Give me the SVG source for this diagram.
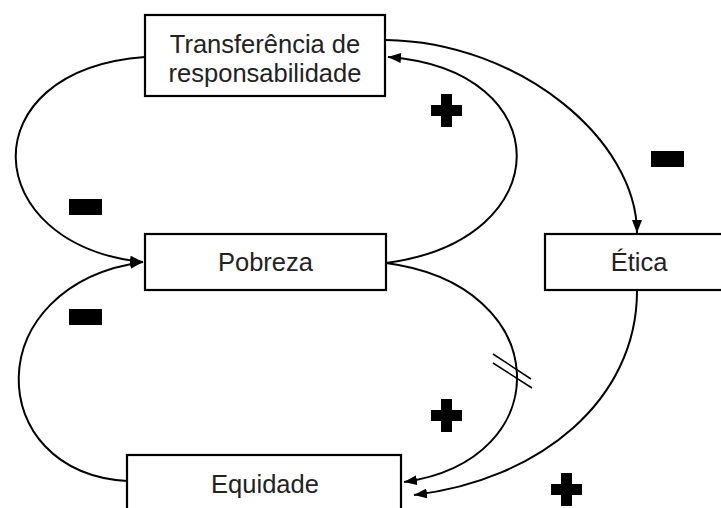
<svg xmlns="http://www.w3.org/2000/svg" width="721" height="508" viewBox="0 0 721 508">
<style>
.box{fill:#fff;stroke:#000;stroke-width:2.2}
.lbl{font-family:"Liberation Sans",Arial,sans-serif;font-size:25.5px;fill:#222;text-anchor:middle}
.con{fill:none;stroke:#000;stroke-width:2}
.sign{fill:#000}
</style>
<defs>
<marker id="arr" markerUnits="userSpaceOnUse" markerWidth="14" markerHeight="10" refX="13" refY="5" orient="auto">
<path d="M0,0 L13,5 L0,10 Z" fill="#000"/>
</marker>
</defs>
<rect width="721" height="508" fill="#fff"/>
<g id="connectors">
<path class="con" d="M145,57 C-32,70 -22,245 143,262" marker-end="url(#arr)"/>
<path class="con" d="M127,481 C-18,472 -22,285 143,262" marker-end="url(#arr)"/>
<path class="con" d="M386,263 C560,240 560,70 388,57" marker-end="url(#arr)"/>
<path class="con" d="M386,263 C555,285 560,460 404,482" marker-end="url(#arr)"/>
<path class="con" d="M386,40 C520,42 637,140 637,233" marker-end="url(#arr)"/>
<path class="con" d="M637,291 C637,400 540,480 414,495" marker-end="url(#arr)"/>
<line x1="493" y1="354" x2="531" y2="379" stroke="#000" stroke-width="1.5"/>
<line x1="493" y1="363" x2="532" y2="388" stroke="#000" stroke-width="1.5"/>
</g>
<g id="signs">
<path class="sign" d="M441,94 h11 v11 h10 v11 h-10 v11 h-11 v-11 h-10 v-11 h10 z"/>
<path class="sign" d="M441,399 h11 v11 h10 v11 h-10 v11 h-11 v-11 h-10 v-11 h10 z"/>
<path class="sign" d="M561,473 h11 v11 h10 v11 h-10 v11 h-11 v-11 h-10 v-11 h10 z"/>
<rect class="sign" x="69" y="199" width="33" height="16"/>
<rect class="sign" x="69" y="309" width="33" height="16"/>
<rect class="sign" x="651" y="151" width="33" height="16"/>
</g>
<g id="node-transferencia">
<rect class="box" x="145" y="15" width="240" height="81"/>
<text class="lbl" x="265" y="53">Transferência de</text>
<text class="lbl" x="265" y="82">responsabilidade</text>
</g>
<g id="node-pobreza">
<rect class="box" x="145" y="234" width="241" height="56"/>
<text class="lbl" x="265.5" y="271">Pobreza</text>
</g>
<g id="node-etica">
<rect class="box" x="545" y="234" width="190" height="56"/>
<text class="lbl" x="639" y="271">Ética</text>
</g>
<g id="node-equidade">
<rect class="box" x="127" y="455" width="274" height="60"/>
<text class="lbl" x="265" y="493">Equidade</text>
</g>
</svg>
